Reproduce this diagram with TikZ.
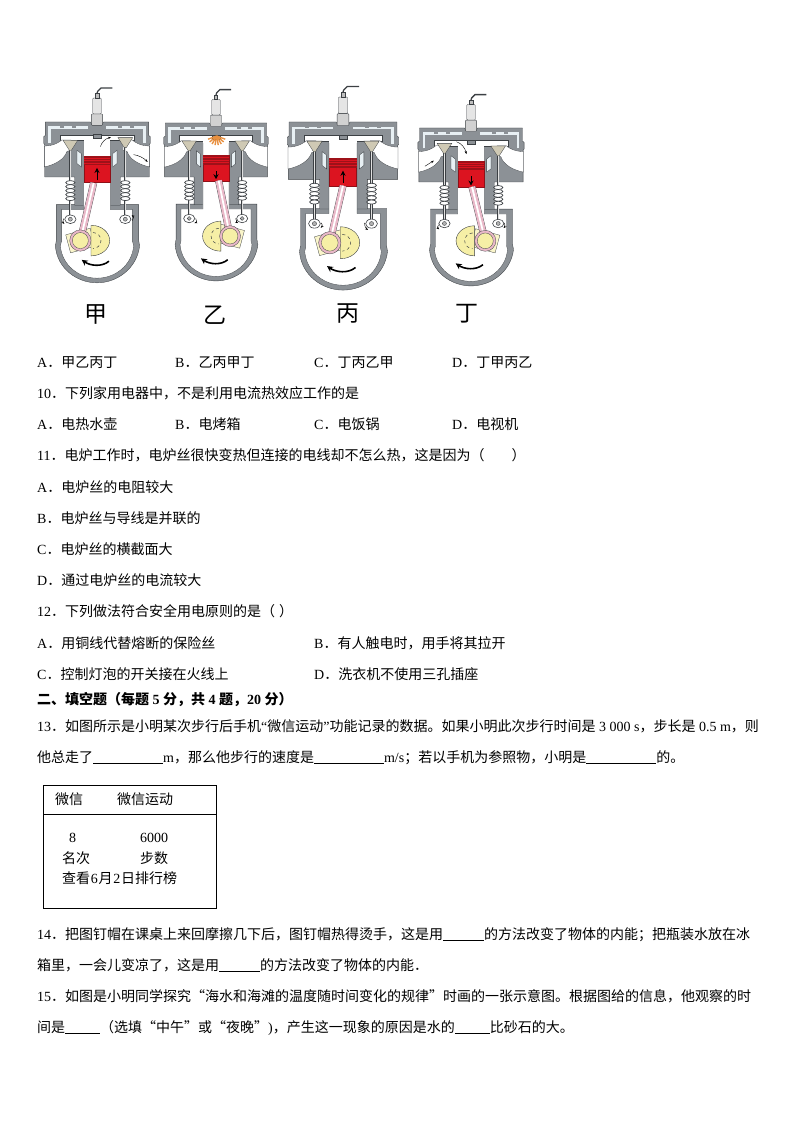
\documentclass[tikz,border=0pt]{standalone}
\usepackage{fontspec}
\setmainfont{Noto Sans CJK SC}
\newfontfamily\lat{Liberation Serif}
\usetikzlibrary{arrows.meta}
\definecolor{bodygray}{HTML}{8C9196}
\definecolor{edgedark}{HTML}{3C4044}
\definecolor{jacket}{HTML}{E8F0F4}
\definecolor{pistred}{HTML}{DC1420}
\definecolor{ringred}{HTML}{8E1018}
\definecolor{rodpink}{HTML}{E9B8C8}
\definecolor{crankyel}{HTML}{F6EFA6}
\definecolor{valvetan}{HTML}{CFC9B4}
\definecolor{flame}{HTML}{E89040}
\tikzset{
  txt/.style={anchor=base west, inner sep=0pt, font=\fontsize{14}{14}\selectfont},
  tag/.style={anchor=center, inner sep=0pt, font=\fontsize{23}{23}\selectfont},
  casing/.style={fill=bodygray, draw=edgedark, line width=.35pt},
  hollow/.style={fill=white, draw=edgedark, line width=.3pt},
  flow/.style={-{Stealth[length=3pt]}, line width=.4pt, black},
}
\newcommand{\blank}[1]{\rule[-2pt]{#1pt}{.7pt}}
% fixed part of one engine, in units of a third of a pixel
\newcommand{\enginebody}{
  \draw[casing] (-122,248) -- (-122,355) -- (-125,372) .. controls (-120,440) and (-60,483) .. (0,483)
    .. controls (60,483) and (120,440) .. (128,372) -- (125,355) -- (125,248) -- cycle;
  \draw[casing] (-155,0) -- (-20,0) -- (-16,6) -- (16,6) -- (20,0) -- (155,0) -- (155,40) -- (160,44) -- (160,64) -- (157,68)
    -- (157,165) -- (70,165) -- (70,250) -- (-67,250) -- (-67,165) -- (-157,165) -- (-157,68) -- (-160,64) -- (-160,44) -- (-155,40) -- cycle;
  \draw[hollow] (-107,263) -- (-40,263) -- (-40,55) -- (40,55) -- (40,263) -- (107,263) -- (107,360) -- (110,372)
    .. controls (105,430) and (55,469) .. (0,469) .. controls (-55,469) and (-105,430) .. (-110,372) -- (-107,360) -- cycle;
  \draw[hollow] (-112,55) -- (-112,38) -- (112,38) -- (112,55) -- cycle;
  \fill[white] (-39.6,50) rectangle (39.6,60);
  \foreach \s in {-1,1}{
    \begin{scope}[xscale=\s]
      \draw[hollow] (-158,72) .. controls (-130,72) and (-112,60) .. (-106,54) -- (-78,54) -- (-78,85) -- (-90,88)
        .. controls (-98,112) and (-125,128) .. (-158,135) -- cycle;
      \draw[jacket, line width=2.6pt] (-142,62) -- (-142,17) -- (-28,17);
      \fill[bodygray] (-110,10) rectangle (-98,17);
      \fill[bodygray] (-75,10) rectangle (-63,17);
      \draw[hollow, fill=jacket] (-60,85) -- (-47,95) -- (-47,135) -- (-60,125) -- cycle;
    \end{scope}
  }
  % spark plug
  \draw[hollow, fill=black!10, rounded corners=1pt] (-13,-72) rectangle (13,-24);
  \draw[hollow, fill=black!25] (-5,-86) rectangle (5,-72);
  \draw[line width=1.3pt, edgedark] (0,-86) -- (2,-92) -- (12,-102) -- (46,-102);
  \draw[casing, fill=black!18, rounded corners=.8pt] (-17,-24) -- (17,-24) -- (17,10) -- (-17,10) -- cycle;
  \draw[casing] (-12,38) rectangle (12,50);
}
% valve: x, drop of the head
\newcommand{\valve}[2]{
  \draw[line width=2.2pt, edgedark] (#1,70+#2) -- (#1,280);
  \draw[line width=1.2pt, black!12] (#1,70+#2) -- (#1,280);
  \draw[hollow, fill=valvetan] (#1-22,55+#2) -- (#1+22,55+#2) -- (#1+3,85+#2) -- (#1-3,85+#2) -- cycle;
  \foreach \k in {0,...,4}{
    \draw[edgedark, line width=.7pt, fill=white] (#1,182+12*\k) ellipse (14 and 6);
  }
  \draw[edgedark, line width=.6pt, fill=white] (#1,292) ellipse (17 and 13);
  \draw[edgedark, line width=.4pt, fill=black!30] (#1,292) circle (6);
}
% piston: top y, arrow start y, arrow end y
\newcommand{\piston}[3]{
  \draw[fill=pistred, draw=ringred, line width=.3pt] (-39,#1) rectangle (39,#1+80);
  \fill[ringred!80!pistred] (-39,#1) rectangle (39,#1+28);
  \foreach \k in {1,2,3}{
    \draw[pistred, line width=.6pt] (-39,#1+7*\k) -- (39,#1+7*\k);
  }
  \draw[-{Stealth[length=5pt,width=5pt]}, line width=1pt, black] (0,#2) -- (0,#3);
}
% crank: rod top x, pin x, pin y, weight x, side of weight, piston bottom y
\newcommand{\crank}[6]{
  \draw[edgedark, line width=.3pt, fill=crankyel!60!white, rotate around={#5*15:(#2,#3)}] (#2-38,#3-28) rectangle (#2+38,#3+28);
  \draw[edgedark, line width=.4pt, fill=crankyel] (#4,#3-46) arc[start angle=-90, end angle=90, x radius=#5*56, y radius=46] -- cycle;
  \draw[edgedark, line width=.5pt, dashed] (#4+#5*6,#3-24) arc[start angle=-90, end angle=90, x radius=#5*24, y radius=24];
  \draw[edgedark, line width=7pt] (#1,#6) -- (#2,#3);
  \draw[rodpink, line width=6.4pt] (#1,#6) -- (#2,#3);
  \draw[white, line width=1.8pt] (#1,#6) -- (#2,#3);
  \draw[edgedark, line width=.3pt, fill=rodpink] (#2,#3) circle (32);
  \draw[edgedark, line width=.3pt, fill=crankyel] (#2,#3) circle (24);
  \draw[-{Stealth[length=6pt,width=6pt]}, line width=1.6pt, black] (36,418) .. controls (15,436) and (-20,432) .. (-46,414);
}
\begin{document}
\begin{tikzpicture}[x=1pt,y=-1pt]
\useasboundingbox (0,0) rectangle (794,1123);
\begin{scope}[shift={(97,122)},x=.333pt,y=-.333pt]
\enginebody
\valve{-80}{0}
\valve{85}{-8}
\piston{102}{175}{138}
\crank{-10}{-50}{356}{-18}{1}{183}
\draw[flow] (10,74) .. controls (15,60) and (25,50) .. (42,46);
\draw[flow] (110,98) .. controls (125,100) and (140,108) .. (152,120);
\draw[flow] (-100,290) .. controls (-104,296) and (-102,302) .. (-98,306);
\draw[flow] (106,296) .. controls (110,290) and (110,284) .. (104,280);
\end{scope}
\begin{scope}[shift={(216,123)},x=.327pt,y=-.327pt]
\enginebody
\valve{-82}{0}
\valve{80}{0}
\piston{99}{148}{172}
\crank{8}{43}{346}{15}{-1}{176}
\foreach \a in {20,40,...,160}{
  \draw[flame, line width=1.4pt] (2,40) -- ++(\a:28);
}
\draw[flow] (-62,292) .. controls (-58,298) and (-60,304) .. (-66,306);
\draw[flow] (60,292) .. controls (64,298) and (64,304) .. (68,306);
\end{scope}
\begin{scope}[shift={(343,122)},x=.348pt,y=-.348pt]
\enginebody
\valve{-82}{0}
\valve{82}{0}
\piston{103}{176}{140}
\crank{0}{-38}{347}{-8}{1}{183}
\draw[flow] (-62,290) .. controls (-58,296) and (-60,300) .. (-64,304);
\draw[flow] (62,290) .. controls (62,300) and (66,306) .. (72,310);
\end{scope}
\begin{scope}[shift={(471,128)},x=.332pt,y=-.327pt]
\enginebody
\valve{-80}{-8}
\valve{82}{0}
\piston{100}{148}{176}
\crank{3}{43}{345}{11}{-1}{180}
\draw[flow] (-139,117) -- (-112,100);
\draw[flow] (-44,42) .. controls (-30,46) and (-18,60) .. (-14,80);
\draw[flow] (-98,296) .. controls (-102,302) and (-100,306) .. (-96,310);
\draw[flow] (100,290) .. controls (104,296) and (102,302) .. (98,306);
\end{scope}
\node[tag] (tagjia) at (96,314) {甲};
\node[tag] (tagyi) at (215,315) {乙};
\node[tag] (tagbing) at (348,314) {丙};
\node[tag] (tagding) at (467,314) {丁};
\node[txt] (ans9a) at (37,367) {{\lat A}．甲乙丙丁};
\node[txt] (ans9b) at (175,367) {{\lat B}．乙丙甲丁};
\node[txt] (ans9c) at (314,367) {{\lat C}．丁丙乙甲};
\node[txt] (ans9d) at (452,367) {{\lat D}．丁甲丙乙};
\node[txt] (ques10) at (37,398) {{\lat 10}．下列家用电器中，不是利用电流热效应工作的是};
\node[txt] (ans10a) at (37,429) {{\lat A}．电热水壶};
\node[txt] (ans10b) at (175,429) {{\lat B}．电烤箱};
\node[txt] (ans10c) at (314,429) {{\lat C}．电饭锅};
\node[txt] (ans10d) at (452,429) {{\lat D}．电视机};
\node[txt] (ques11) at (37,460) {{\lat 11}．电炉工作时，电炉丝很快变热但连接的电线却不怎么热，这是因为（\hspace{27pt}）};
\node[txt] (ans11a) at (37,492) {{\lat A}．电炉丝的电阻较大};
\node[txt] (ans11b) at (37,523) {{\lat B}．电炉丝与导线是并联的};
\node[txt] (ans11c) at (37,554) {{\lat C}．电炉丝的横截面大};
\node[txt] (ans11d) at (37,585) {{\lat D}．通过电炉丝的电流较大};
\node[txt] (ques12) at (37,616) {{\lat 12}．下列做法符合安全用电原则的是（\hspace{4pt}）};
\node[txt] (ans12a) at (37,648) {{\lat A}．用铜线代替熔断的保险丝};
\node[txt] (ans12b) at (314,648) {{\lat B}．有人触电时，用手将其拉开};
\node[txt] (ans12c) at (37,679) {{\lat C}．控制灯泡的开关接在火线上};
\node[txt] (ans12d) at (314,679) {{\lat D}．洗衣机不使用三孔插座};
\node[txt, font=\fontsize{14}{14}\bfseries] (part2) at (37,704) {二、填空题（每题{\lat\ 5\ }分，共{\lat\ 4\ }题，{\lat 20\ }分）};
\node[txt] (ques13) at (37,731) {{\lat 13}．如图所示是小明某次步行后手机{\lat “}微信运动{\lat ”}功能记录的数据。如果小明此次步行时间是{\lat\ 3 000 s}，步长是{\lat\ 0.5 m}，则};
\node[txt] (line13) at (37,762) {他总走了\blank{70}{\lat m}，那么他步行的速度是\blank{70}{\lat m/s}；若以手机为参照物，小明是\blank{70}的。};
\node[draw, line width=.7pt, anchor=north west, inner sep=0pt, minimum width=173pt, minimum height=123pt] (wxbox) at (43,785) {};
\coordinate (wxl) at (43,814);
\coordinate (wxr) at (216,814);
\draw[line width=.7pt] (wxl) -- (wxr);
\node[txt] (wxtitle) at (55,804) {微信};
\node[txt] (wxsport) at (117,804) {微信运动};
\node[txt] (wxrank) at (69,842) {\lat 8};
\node[txt] (wxsteps) at (140,842) {\lat 6000};
\node[txt] (wxranktag) at (62,863) {名次};
\node[txt] (wxstepstag) at (140,863) {步数};
\node[txt] (wxlist) at (62,883) {查看{\lat\hspace{.7pt}6\hspace{.7pt}}月{\lat\hspace{.7pt}2\hspace{.7pt}}日排行榜};
\node[txt] (ques14) at (37,939) {{\lat 14}．把图钉帽在课桌上来回摩擦几下后，图钉帽热得烫手，这是用\blank{41}的方法改变了物体的内能；把瓶装水放在冰};
\node[txt] (line14) at (37,970) {箱里，一会儿变凉了，这是用\blank{41}的方法改变了物体的内能．};
\node[txt] (ques15) at (37,1001) {{\lat 15}．如图是小明同学探究“海水和海滩的温度随时间变化的规律”时画的一张示意图。根据图给的信息，他观察的时};
\node[txt] (line15) at (37,1032) {间是\blank{35}（选填“中午”或“夜晚”{\lat )}，产生这一现象的原因是水的\blank{35}比砂石的大。};
\end{tikzpicture}
\end{document}
